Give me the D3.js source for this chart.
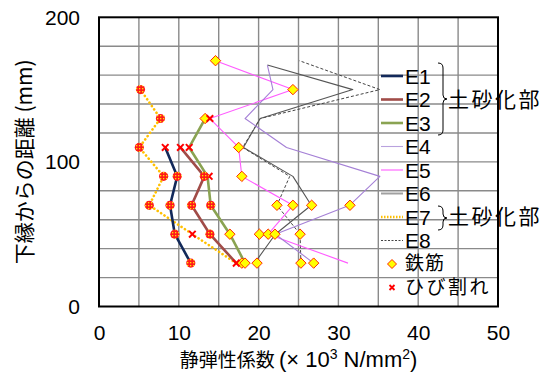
<!DOCTYPE html>
<html>
<head>
<meta charset="utf-8">
<script src="https://cdn.jsdelivr.net/npm/d3@7"></script>
<style>
  body { margin: 0; background: #fff; }
  svg { display: block; font-family: "Liberation Sans", Arial, "Noto Sans CJK JP", sans-serif; }
</style>
</head>
<body>
<div id="chart"></div>
<script>
// [modulus (x10^3 N/mm2), distance from bottom (mm)]
const E1 = [[11.5, 30], [9.5, 50], [8.9, 70], [9.8, 90], [8.3, 110]];
const E2 = [[17.2, 30], [13.9, 50], [11.6, 70], [13.2, 90], [10.2, 110]];
const E3 = [[18.3, 30], [16.4, 50], [14.0, 70], [13.6, 90], [11.3, 110], [13.3, 130]];
const E4 = [[26.9, 30], [22.1, 50], [31.4, 70], [35.2, 90], [23.5, 110], [18.3, 130], [21.8, 150], [21.1, 167]];
const E5 = [[31.2, 30], [21.2, 50], [24.3, 70], [17.9, 90], [17.5, 110], [13.9, 130], [24.3, 150], [14.6, 170]];
const E6 = [[19.5, 30], [22.1, 50], [26.6, 70], [24.3, 90], [18.1, 110], [20.2, 130], [31.8, 150], [21.1, 167]];
const E7 = [[17.2, 30], [11.7, 50], [6.3, 70], [8.1, 90], [5.05, 110], [7.7, 130], [5.2, 150]];
const E8 = [[25.3, 30], [25.2, 50], [22.3, 70], [23.9, 90], [18.0, 110], [20.2, 130], [35.2, 150], [25.1, 170]];

// 鉄筋 (rebar) positions
const rebar = [[14.6, 170], [13.3, 130], [17.5, 110], [24.3, 150], [17.9, 90],
  [22.3, 70], [24.3, 70], [26.65, 70], [31.45, 70],
  [16.4, 50], [20.1, 50], [21.2, 50], [22.05, 50], [25.2, 50],
  [17.9, 30], [18.3, 30], [19.8, 30], [25.3, 30], [26.9, 30]];
// ひび割れ (crack) positions
const cracks = [[8.3, 110], [10.2, 110], [11.3, 110], [13.9, 130], [13.8, 90], [11.7, 50], [17.2, 30]];
// points where rebar and crack marks overlap
const both = [[11.5, 30], [9.5, 50], [8.9, 70], [9.8, 90],
  [13.9, 50], [11.6, 70], [13.2, 90], [14.0, 70],
  [6.3, 70], [8.1, 90], [5.05, 110], [7.7, 130], [5.2, 150]];

const xTicks = [0, 10, 20, 30, 40, 50];
const yTicks = [0, 100, 200];

const series = [
  { name: 'E1', data: E1, color: '#12295a', width: 2.6 },
  { name: 'E2', data: E2, color: '#a14c48', width: 2.6 },
  { name: 'E3', data: E3, color: '#8aa352', width: 2.6 },
  { name: 'E4', data: E4, color: '#a580d6', width: 1.1 },
  { name: 'E5', data: E5, color: '#ff5cff', width: 1.1 },
  { name: 'E6', data: E6, color: '#555555', width: 1.1 },
  { name: 'E7', data: E7, color: '#ffc000', width: 2.6, dash: '0.1,4', cap: 'round' },
  { name: 'E8', data: E8, color: '#444444', width: 1, dash: '3,2' }
];

const W = 543, H = 372;
const x = d3.scaleLinear().domain([0, 50]).range([99, 498]);
const y = d3.scaleLinear().domain([0, 200]).range([306.5, 17.3]);

const svg = d3.select('#chart').append('svg').attr('width', W).attr('height', H);

const defs = svg.append('defs');
const pat = defs.append('pattern').attr('id', 'dots')
  .attr('patternUnits', 'userSpaceOnUse').attr('width', 3).attr('height', 3);
pat.append('rect').attr('width', 3).attr('height', 3).attr('fill', '#ff1a1a');
pat.append('rect').attr('x', 1).attr('y', 1).attr('width', 1.3).attr('height', 1.3).attr('fill', '#ffe600');

// grid
const grid = svg.append('g');
grid.selectAll('line.v').data(d3.range(5, 50, 5)).join('line')
  .attr('x1', d => x(d)).attr('x2', d => x(d)).attr('y1', y(0)).attr('y2', y(200))
  .attr('stroke', '#8a8a8a').attr('stroke-width', 1.4);
grid.selectAll('line.h').data(d3.range(20, 200, 20)).join('line')
  .attr('y1', d => y(d)).attr('y2', d => y(d)).attr('x1', x(0)).attr('x2', x(50))
  .attr('stroke', '#8a8a8a').attr('stroke-width', 1.4);

// axes
const xAxis = svg.append('g').attr('transform', `translate(0,${y(0)})`)
  .call(d3.axisBottom(x).tickValues(xTicks).tickSize(0).tickPadding(19));
const yAxis = svg.append('g').attr('transform', `translate(${x(0)},0)`)
  .call(d3.axisLeft(y).tickValues(yTicks).tickSize(0).tickPadding(19));
[xAxis, yAxis].forEach(a => {
  a.select('.domain').remove();
  a.selectAll('text').attr('font-size', 21).attr('fill', '#000')
    .attr('font-family', '"Liberation Sans", Arial, sans-serif');
});

// frame
svg.append('rect').attr('x', x(0)).attr('y', y(200))
  .attr('width', x(50) - x(0)).attr('height', y(0) - y(200))
  .attr('fill', 'none').attr('stroke', '#000').attr('stroke-width', 2);

// lines
const line = d3.line().x(d => x(d[0])).y(d => y(d[1]));
const lines = svg.append('g');
series.slice().reverse().forEach(s => {
  lines.append('path').attr('d', line(s.data))
    .attr('fill', 'none').attr('stroke', s.color).attr('stroke-width', s.width)
    .attr('stroke-dasharray', s.dash || null)
    .attr('stroke-linecap', s.cap || 'butt').attr('stroke-linejoin', 'round');
});

// markers
const diamond = 'M0,-5.2L5.2,0L0,5.2L-5.2,0Z';
const cross = 'M-3.3,-3.3L3.3,3.3M3.3,-3.3L-3.3,3.3';
const marks = svg.append('g');
marks.selectAll('path.rb').data(rebar).join('path')
  .attr('transform', d => `translate(${x(d[0])},${y(d[1])})`)
  .attr('d', diamond).attr('fill', '#ffff00').attr('stroke', '#ff2a00').attr('stroke-width', 1);
marks.selectAll('path.cr').data(cracks).join('path')
  .attr('transform', d => `translate(${x(d[0])},${y(d[1])})`)
  .attr('d', cross).attr('fill', 'none').attr('stroke', '#ff0000').attr('stroke-width', 2);
marks.selectAll('circle.bt').data(both).join('circle')
  .attr('cx', d => x(d[0])).attr('cy', d => y(d[1])).attr('r', 4.6)
  .attr('fill', 'url(#dots)');

// legend
const lg = svg.append('g');
const ly0 = 76, lstep = 23.5;
const cjk = '"Noto Sans CJK JP", sans-serif';
series.forEach((s, i) => {
  const yy = ly0 + i * lstep;
  lg.append('line').attr('x1', 381).attr('x2', 403).attr('y1', yy).attr('y2', yy)
    .attr('stroke', s.name === 'E6' ? '#a0a0a0' : s.name === 'E4' ? '#b9a2de' : s.color)
    .attr('stroke-width', s.name === 'E6' ? 2 : s.width)
    .attr('stroke-dasharray', s.name === 'E7' ? '1.5,1.5' : s.dash ? '2,1.5' : null);
  lg.append('text').attr('x', 405).attr('y', yy).attr('dy', '0.36em')
    .attr('font-size', 21).text(s.name);
});
const ry = ly0 + 8 * lstep, cy = ly0 + 9 * lstep;
lg.append('path').attr('transform', `translate(392,${ry})`).attr('d', 'M0,-4.5L4.5,0L0,4.5L-4.5,0Z')
  .attr('fill', '#ffff00').attr('stroke', '#ff2a00').attr('stroke-width', 1);
lg.append('path').attr('transform', `translate(392,${cy})`).attr('d', 'M-2.5,-2.5L2.5,2.5M2.5,-2.5L-2.5,2.5')
  .attr('stroke', '#ff0000').attr('stroke-width', 1.8);
lg.append('text').attr('x', 405).attr('y', ry).attr('dy', '0.34em').attr('font-size', 19)
  .attr('letter-spacing', 1).attr('font-family', cjk).text('鉄筋');
lg.append('text').attr('x', 405).attr('y', cy).attr('dy', '0.34em').attr('font-size', 19)
  .attr('letter-spacing', 2.5).attr('font-family', cjk).text('ひび割れ');

// braces
function brace(x0, y0, y1) {
  const m = (y0 + y1) / 2;
  return `M${x0},${y0} q5,0 5,5 V${m - 4} q0,4 4,4 q-4,0 -4,4 V${y1 - 5} q0,5 -5,5`;
}
lg.append('path').attr('d', brace(438, 63, 135)).attr('fill', 'none').attr('stroke', '#000').attr('stroke-width', 1);
lg.append('path').attr('d', brace(438, 206, 230)).attr('fill', 'none').attr('stroke', '#000').attr('stroke-width', 1);
[ly0 + lstep, ly0 + 6 * lstep].forEach(yy => {
  lg.append('text').attr('x', 448).attr('y', yy).attr('dy', '0.34em').attr('font-size', 21)
    .attr('letter-spacing', 2.5).attr('font-family', cjk).text('土砂化部');
});

// axis titles
const xt = svg.append('text').attr('x', (x(0) + x(50)) / 2).attr('y', 367)
  .attr('text-anchor', 'middle').attr('font-size', 19)
  .attr('font-family', '"Noto Sans CJK JP", "Liberation Sans", sans-serif');
xt.append('tspan').text('静弾性係数 ');
xt.append('tspan').attr('font-family', '"Liberation Sans", sans-serif').attr('font-size', 22).text('(× 10');
xt.append('tspan').attr('font-family', '"Liberation Sans", sans-serif').attr('font-size', 14).attr('dy', -8).text('3');
xt.append('tspan').attr('font-family', '"Liberation Sans", sans-serif').attr('font-size', 22).attr('dy', 8).text(' N/mm');
xt.append('tspan').attr('font-family', '"Liberation Sans", sans-serif').attr('font-size', 14).attr('dy', -8).text('2');
xt.append('tspan').attr('font-family', '"Liberation Sans", sans-serif').attr('font-size', 22).attr('dy', 8).text(')');

svg.append('text').attr('transform', `translate(32,${(y(0) + y(200)) / 2}) rotate(-90)`)
  .attr('text-anchor', 'middle').attr('font-size', 21)
  .attr('font-family', '"Noto Sans CJK JP", "Liberation Sans", sans-serif')
  .text('下縁からの距離 (mm)');
</script>
</body>
</html>
